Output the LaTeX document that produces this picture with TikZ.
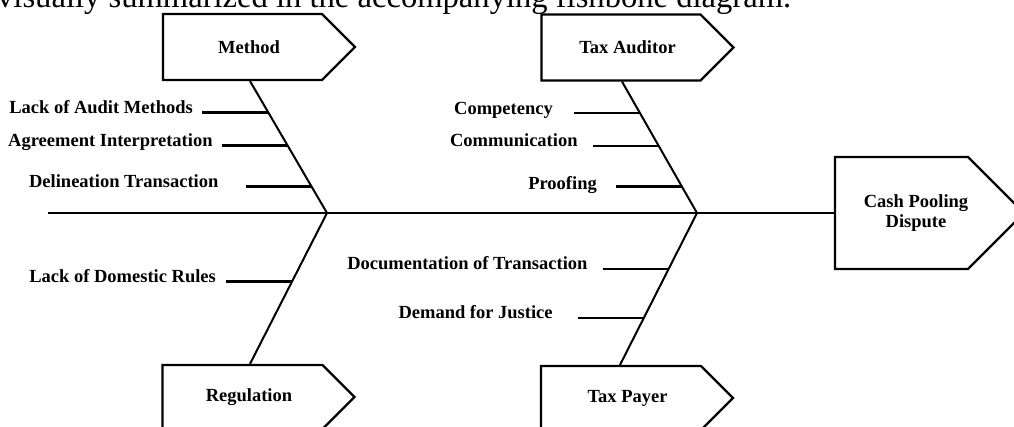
\documentclass[tikz,border=0pt]{standalone}
\usepackage{fontspec}
\setmainfont{Liberation Serif}
\usetikzlibrary{shapes.symbols,calc,positioning}

\begin{document}
\begin{tikzpicture}[x=1pt,y=-1pt,
  cat/.style={signal, signal to=east, signal pointer angle=90, draw, line width=2.2pt,
    minimum width=192pt, minimum height=66pt, inner sep=0pt},
  boxtext/.style={xshift=6.5pt, inner sep=0pt, align=center,
    font=\bfseries\fontsize{18.5}{20}\selectfont},
  bone/.style={line width=2pt},
  rib/.style={line width=2.6pt},
  cause/.style={anchor=base east, inner sep=0pt, font=\bfseries\fontsize{18.5}{20}\selectfont}]

  \useasboundingbox (0,0) rectangle (1014,426);
  \clip (0,0) rectangle (1014,426);

  % Text line above the figure
  \node[anchor=base west, inner sep=0pt, font=\fontsize{32.6}{38}\selectfont] (caption) at (-3,7.5)
    {visually summarized in the accompanying fishbone diagram.};

  % Head and spine
  \node[cat, minimum width=189pt, minimum height=112pt,
    label={[boxtext, xshift=8pt]center:{Cash Pooling\\Dispute}}] (dispute) at (901.5,213) {};
  \coordinate (tail) at (48,213);
  \coordinate (mj) at (327,213);
  \coordinate (tj) at (697,213);
  \draw[bone] (tail) -- (dispute.west);

  % Categories
  \node[cat, label={[boxtext]center:Method}] (method) at (242.5,47) {};
  \node[cat, label={[boxtext]center:Tax Auditor}] (auditor) at (621,47.5) {};
  \node[cat, minimum height=64pt, label={[boxtext]center:Regulation}] (regulation) at (242.5,397) {};
  \node[cat, minimum height=64pt, label={[boxtext]center:Tax Payer}] (payer) at (621,398) {};

  % Bones
  \draw[bone] (mj) -- ([xshift=7.5pt]method.south) coordinate (mtop);
  \draw[bone] (tj) -- ([xshift=1pt]auditor.south) coordinate (ttop);
  \draw[bone] (mj) -- ([xshift=7.5pt]regulation.north) coordinate (mbot);
  \draw[bone] (tj) -- ([xshift=-1pt]payer.north) coordinate (tbot);

  % Method
  \draw[rib] ($(mj)!0.76!(mtop)$) -- ++(-66,0) coordinate (m1);
  \draw[rib] ($(mj)!0.51!(mtop)$) -- ++(-66,0) coordinate (m2);
  \draw[rib] ($(mj)!0.20!(mtop)$) -- ++(-66,0) coordinate (m3);
  \node[cause] (audit) at ([xshift=-9.5pt,yshift=-1pt]m1) {Lack of Audit Methods};
  \node[cause] (agreement) at ([xshift=-9pt,yshift=-1pt]m2) {Agreement Interpretation};
  \node[cause] (delineation) at ([xshift=-27pt,yshift=-1pt]m3) {Delineation Transaction};

  % Tax Auditor
  \draw[rib] ($(tj)!0.76!(ttop)$) -- ++(-66,0) coordinate (t1);
  \draw[rib] ($(tj)!0.51!(ttop)$) -- ++(-66,0) coordinate (t2);
  \draw[rib] ($(tj)!0.20!(ttop)$) -- ++(-66,0) coordinate (t3);
  \node[cause] (competency) at ([xshift=-21pt,yshift=-1pt]t1) {Competency};
  \node[cause] (communication) at ([xshift=-15pt,yshift=-1pt]t2) {Communication};
  \node[cause] (proofing) at ([xshift=-19pt,yshift=-3pt]t3) {Proofing};

  % Regulation
  \draw[rib] ($(mj)!0.454!(mbot)$) -- ++(-66,0) coordinate (r1);
  \node[cause] (domestic) at ([xshift=-10pt,yshift=-1pt]r1) {Lack of Domestic Rules};

  % Tax Payer
  \draw[rib] ($(tj)!0.368!(tbot)$) -- ++(-66,0) coordinate (p1);
  \draw[rib] ($(tj)!0.69!(tbot)$) -- ++(-66,0) coordinate (p2);
  \node[cause] (documentation) at ([xshift=-15pt,yshift=-1pt]p1) {Documentation of Transaction};
  \node[cause] (justice) at ([xshift=-25pt,yshift=-1pt]p2) {Demand for Justice};
\end{tikzpicture}
\end{document}
